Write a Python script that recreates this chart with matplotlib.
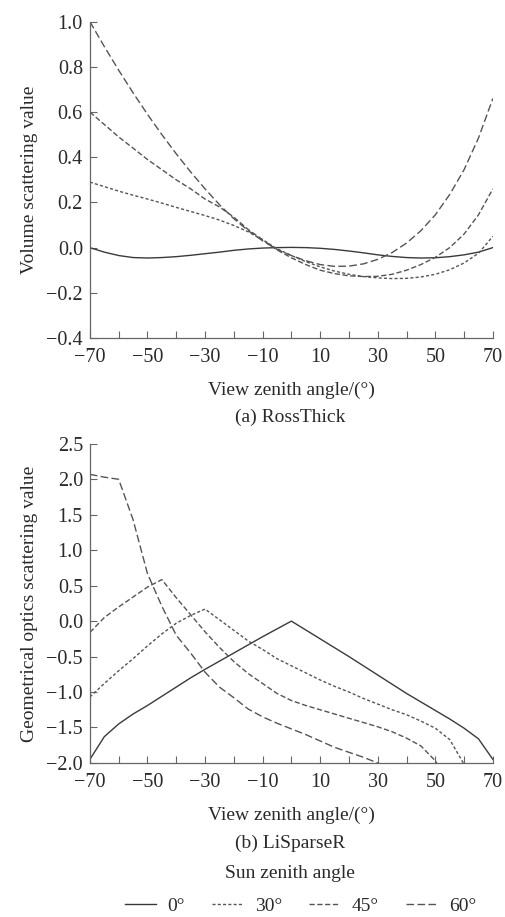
import numpy as np
import matplotlib.pyplot as plt
from matplotlib.lines import Line2D
from matplotlib.ticker import FuncFormatter

plt.rcParams['font.family'] = ['Liberation Serif', 'DejaVu Serif']
plt.rcParams['axes.unicode_minus'] = True

# view zenith angle, every 5 degrees
view_angle = list(range(-70, 75, 5))
sun_labels = ['0°', '30°', '45°', '60°']

# (a) RossThick kernel values
ross_0 = [0.0, -0.02, -0.035, -0.044, -0.046, -0.044, -0.04, -0.034, -0.027, -0.02,
          -0.012, -0.006, -0.002, 0.0, 0.001, 0.0, -0.003, -0.008, -0.015, -0.023,
          -0.032, -0.039, -0.044, -0.046, -0.045, -0.04, -0.032, -0.02, 0.0]
ross_30 = [0.29, 0.27, 0.25, 0.232, 0.215, 0.197, 0.178, 0.16, 0.142, 0.122,
           0.098, 0.07, 0.035, -0.005, -0.035, -0.062, -0.085, -0.104, -0.118, -0.128,
           -0.134, -0.137, -0.136, -0.13, -0.118, -0.098, -0.068, -0.025, 0.05]
ross_45 = [0.60, 0.545, 0.49, 0.44, 0.39, 0.345, 0.30, 0.26, 0.215, 0.18,
           0.135, 0.08, 0.035, -0.01, -0.045, -0.075, -0.10, -0.115, -0.125, -0.128,
           -0.127, -0.118, -0.10, -0.075, -0.043, 0.0, 0.06, 0.145, 0.26]
ross_60 = [1.0, 0.89, 0.785, 0.685, 0.59, 0.50, 0.415, 0.335, 0.26, 0.19,
           0.128, 0.075, 0.03, -0.008, -0.035, -0.058, -0.075, -0.083, -0.082, -0.072,
           -0.052, -0.022, 0.02, 0.075, 0.145, 0.235, 0.345, 0.485, 0.66]

# (b) LiSparseR kernel values (below -2.0 is cut off by the axis)
li_0 = [-1.95, -1.63, -1.45, -1.31, -1.19, -1.06, -0.93, -0.80, -0.68, -0.565,
        -0.45, -0.335, -0.22, -0.11, 0.0, -0.125, -0.25, -0.375, -0.50, -0.63,
        -0.76, -0.89, -1.02, -1.14, -1.26, -1.38, -1.51, -1.66, -1.95]
li_30 = [-1.07, -0.88, -0.70, -0.53, -0.35, -0.18, -0.03, 0.08, 0.17, 0.02,
         -0.13, -0.28, -0.40, -0.53, -0.63, -0.73, -0.83, -0.92, -1.00, -1.09,
         -1.17, -1.25, -1.32, -1.41, -1.51, -1.67, -2.02, -2.4, -2.8]
li_45 = [-0.16, 0.05, 0.20, 0.34, 0.48, 0.585, 0.33, 0.09, -0.15, -0.37,
         -0.57, -0.74, -0.88, -1.02, -1.12, -1.19, -1.25, -1.31, -1.37, -1.43,
         -1.49, -1.56, -1.65, -1.76, -1.97, -2.3, -2.6, -2.9, -3.2]
li_60 = [2.07, 2.03, 2.0, 1.43, 0.67, 0.21, -0.2, -0.45, -0.72, -0.93,
         -1.08, -1.24, -1.35, -1.44, -1.52, -1.60, -1.69, -1.78, -1.85, -1.92,
         -2.0, -2.1, -2.2, -2.3, -2.4, -2.5, -2.6, -2.7, -2.8]

styles = [dict(color='#3a3a3a', linestyle='-'),
          dict(color='#555555', dashes=(2.2, 1.6)),
          dict(color='#555555', dashes=(3.8, 1.8)),
          dict(color='#555555', dashes=(5.5, 2.4))]
txt = '#2a2a2a'
spine_c = '#666666'

one_decimal = FuncFormatter(lambda v, pos: ('%.1f' % v).replace('-', '\u2212'))


def style_axes(ax, ylim, yticks, ylabel):
    ax.set_xlim(-70, 70)
    ax.set_ylim(*ylim)
    ax.set_xticks(range(-70, 71, 20))
    ax.set_xticks(range(-60, 61, 20), minor=True)
    ax.set_yticks(yticks)
    ax.yaxis.set_major_formatter(one_decimal)
    ax.tick_params(axis='both', which='both', direction='in', length=5,
                   color=spine_c, labelsize=14.5, labelcolor=txt, width=0.8)
    ax.tick_params(axis='x', pad=7)
    ax.tick_params(axis='y', pad=5)
    ax.spines['top'].set_visible(False)
    ax.spines['right'].set_visible(False)
    for s in ['left', 'bottom']:
        ax.spines[s].set_color(spine_c)
        ax.spines[s].set_linewidth(0.9)
    ax.set_xlabel('View zenith angle/(°)', fontsize=14, color=txt, labelpad=11)
    ax.set_ylabel(ylabel, fontsize=14, color=txt)
    ax.yaxis.set_label_coords(-0.128, 0.5)


fig = plt.figure(figsize=(5.05, 9.17), dpi=100)
ax1 = fig.add_axes([0.178, 0.6314, 0.798, 0.345])
ax2 = fig.add_axes([0.178, 0.168, 0.798, 0.348])

for vals, st in zip([ross_0, ross_30, ross_45, ross_60], styles):
    ax1.plot(view_angle, vals, lw=1.0, **st)
style_axes(ax1, (-0.4, 1.0), np.arange(-0.4, 1.01, 0.2), 'Volume scattering value')

for vals, st in zip([li_0, li_30, li_45, li_60], styles):
    ax2.plot(view_angle, vals, lw=1.0, **st)
style_axes(ax2, (-2.0, 2.5), np.arange(-2.0, 2.51, 0.5), 'Geometrical optics scattering value')

fig.text(0.574, 1 - 417 / 917, '(a) RossThick', ha='center', va='center', fontsize=14, color=txt)
fig.text(0.574, 1 - 843 / 917, '(b) LiSparseR', ha='center', va='center', fontsize=14, color=txt)
fig.text(0.574, 1 - 874 / 917, 'Sun zenith angle', ha='center', va='center', fontsize=14, color=txt)

handles = [Line2D([], [], lw=1.0, **st) for st in styles]
fig.legend(handles, sun_labels, loc='center', bbox_to_anchor=(0.595, 1 - 906 / 917),
           ncol=4, frameon=False, fontsize=14, handlelength=1.6, handletextpad=0.6,
           columnspacing=1.4, labelcolor=txt)

fig.savefig('out.png', dpi=100)
